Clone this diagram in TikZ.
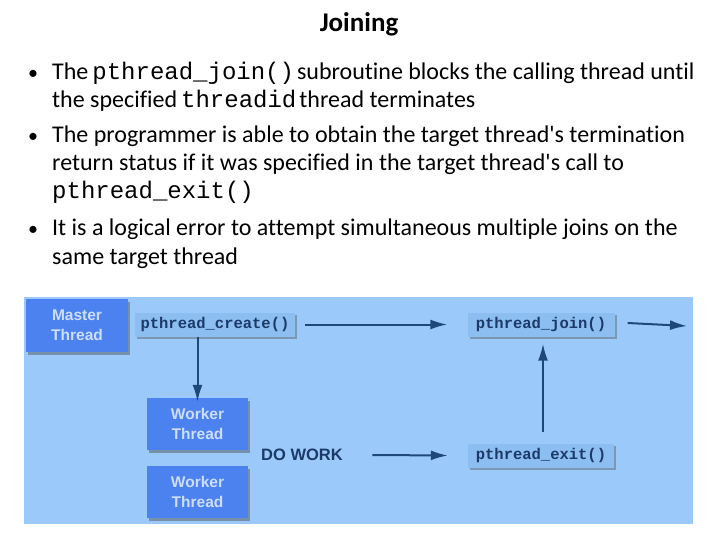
\documentclass[tikz,border=0pt]{standalone}
\usepackage{fontspec}
\setmainfont[Ligatures=CommonOff]{Carlito}
\setmonofont{Liberation Mono}
\newfontfamily\arialfont{Liberation Sans}
\usetikzlibrary{arrows.meta,calc,positioning,shadows}

\definecolor{diagbg}{RGB}{155,202,250}
\definecolor{threadblue}{RGB}{76,130,240}
\definecolor{threadtxt}{RGB}{205,222,255}
\definecolor{callbg}{RGB}{140,190,242}
\definecolor{navy}{RGB}{28,58,104}
\definecolor{arrowblue}{RGB}{30,72,124}

\tikzset{
  line/.style={anchor=base west,inner sep=0pt,font=\fontsize{24}{28}\selectfont},
  code/.style={font=\ttfamily\fontsize{24}{28}\selectfont},
  threadbox/.style={fill=threadblue,text=threadtxt,align=center,inner sep=0pt,
    font=\arialfont\bfseries\fontsize{15.5}{20}\selectfont,
    drop shadow={shadow xshift=2pt,shadow yshift=-2.5pt,opacity=0.45,fill=black!70}},
  callbox/.style={fill=callbg,text=navy,inner sep=0pt,minimum height=24pt,
    font=\ttfamily\bfseries\fontsize{15.5}{18}\selectfont,
    drop shadow={shadow xshift=2pt,shadow yshift=-2.5pt,opacity=0.4,fill=black!70}},
  flow/.style={arrowblue,line width=2pt,-{Latex[length=17pt,width=10pt]}}
}
\newcommand{\cd}[1]{\hspace{4pt}{\ttfamily\fontsize{24}{28}\selectfont #1}\hspace{3pt}}

\begin{document}
\begin{tikzpicture}[x=1pt,y=-1pt]
  \useasboundingbox (0,0) rectangle (720,540);

  % title and bullets
  \node[font=\bfseries\fontsize{27}{30}\selectfont] (title) at (359,24) {Joining};
  \foreach \yy/\nm in {80/b1,143/b2,236/b3}
    \node[line,font=\fontsize{20}{24}\selectfont] (\nm) at (28,\yy) {\textbullet};
  \node[line] (t1) at (52,80) {The\cd{pthread\_join()}subroutine blocks the calling thread until};
  \node[line] (t2) at (52,108) {the specified\cd{threadid}thread terminates};
  \node[line] (t3) at (52,143) {The programmer is able to obtain the target thread\textquotesingle s termination};
  \node[line] (t4) at (52,171) {return status if it was specified in the target thread\textquotesingle s call to};
  \node[line,code] (t5) at (52,199) {pthread\_exit()};
  \node[line] (t6) at (52,236) {It is a logical error to attempt simultaneous multiple joins on the};
  \node[line] (t7) at (52,264) {same target thread};

  % diagram
  \fill[diagbg] (24,297) rectangle (693,524);

  \node[threadbox,minimum width=102pt,minimum height=53pt] (master) at (77,325.5) {Master\\Thread};
  \node[callbox,minimum width=160pt] (create) at (215,324.5) {pthread\_create()};
  \node[callbox,minimum width=147pt] (join) at (541,324.5) {pthread\_join()};
  \node[threadbox,minimum width=101pt,minimum height=52pt] (worker1) at (197.5,424) {Worker\\Thread};
  \node[threadbox,minimum width=101pt,minimum height=52pt] (worker2) at (197.5,492) {Worker\\Thread};
  \node[text=navy,font=\arialfont\bfseries\fontsize{16.5}{18}\selectfont] (dowork) at (302,455) {DO WORK};
  \node[callbox,minimum width=146pt] (exit) at (541,455.5) {pthread\_exit()};
  \coordinate (out) at (687,326);

  \draw[flow] ([xshift=10pt]create.east) -- ([xshift=-20pt]join.west);
  \draw[flow] ([xshift=13pt,yshift=1.5pt]join.east) -- (out);
  \draw[flow] (create.south -| worker1.north) -- ([yshift=-4pt]worker1.north);
  \draw[flow] ([xshift=26pt]dowork.east) -- ([xshift=-20pt]exit.west);
  \draw[flow] ([xshift=2pt,yshift=11pt]exit.north) -- ([xshift=2pt,yshift=-7pt]join.south);
\end{tikzpicture}
\end{document}
